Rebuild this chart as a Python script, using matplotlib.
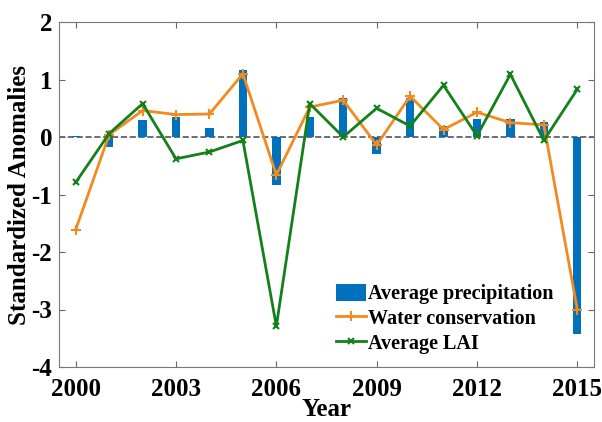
import numpy as np
import matplotlib
matplotlib.use("Agg")
import matplotlib.pyplot as plt

years = list(range(2000, 2016))
precip = [0.02, -0.17, 0.29, 0.35, 0.15, 1.17, -0.84, 0.35,
          0.68, -0.30, 0.68, 0.19, 0.32, 0.32, 0.26, -3.43]
water = [-1.61, 0.04, 0.46, 0.39, 0.40, 1.10, -0.66, 0.52,
         0.64, -0.14, 0.71, 0.13, 0.43, 0.25, 0.21, -3.00]
lai = [-0.79, 0.06, 0.58, -0.38, -0.26, -0.06, -3.29, 0.58,
       0.00, 0.50, 0.19, 0.90, 0.02, 1.09, -0.06, 0.83]
xticks = [2000, 2003, 2006, 2009, 2012, 2015]
yticks = [-4, -3, -2, -1, 0, 1, 2]

plt.rcParams['font.family'] = ['Liberation Serif', 'DejaVu Serif']
plt.rcParams['font.weight'] = 'bold'
plt.rcParams['axes.unicode_minus'] = False

fig = plt.figure(figsize=(6.02, 4.22), dpi=100)
ax = fig.add_axes([59/602, 1 - 367/422, (594-59)/602, (367-22)/422])

ax.axhline(0, color='#555555', ls='--', lw=1.2, zorder=1)
bars = ax.bar(years, precip, width=0.25, color='#0072BD', zorder=2)
l1, = ax.plot(years, water, color='#F28A1E', lw=2, marker='+', ms=7, mew=1.5, zorder=3)
l2, = ax.plot(years, lai, color='#13801A', lw=2, marker='x', ms=4, mew=1.5, zorder=4)

ax.set_xlim(1999.5, 2015.5)
ax.set_ylim(-4, 2)
ax.set_xticks(xticks)
ax.set_yticks(yticks)
ax.tick_params(direction='in', top=True, right=True, labelsize=18, color='#666666',
               length=4)
ax.tick_params(axis='x', pad=8)
ax.tick_params(axis='y', pad=5)
for lab in ax.get_xticklabels() + ax.get_yticklabels():
    lab.set_fontweight('bold')
for s in ax.spines.values():
    s.set_color('#777777')

ax.set_xlabel('Year', fontsize=18, fontweight='bold', labelpad=-2)
ax.set_ylabel('Standardized Anomalies', fontsize=18, fontweight='bold', labelpad=0)

ax.legend([bars, l1, l2], ['Average precipitation', 'Water conservation', 'Average LAI'],
          loc='lower right', bbox_to_anchor=(0.94, 0.015), frameon=False, fontsize=14.5,
          handlelength=1.5, handleheight=0.95, handletextpad=0.1, labelspacing=0.2,
          borderaxespad=0)

fig.savefig('out.png', dpi=100)
